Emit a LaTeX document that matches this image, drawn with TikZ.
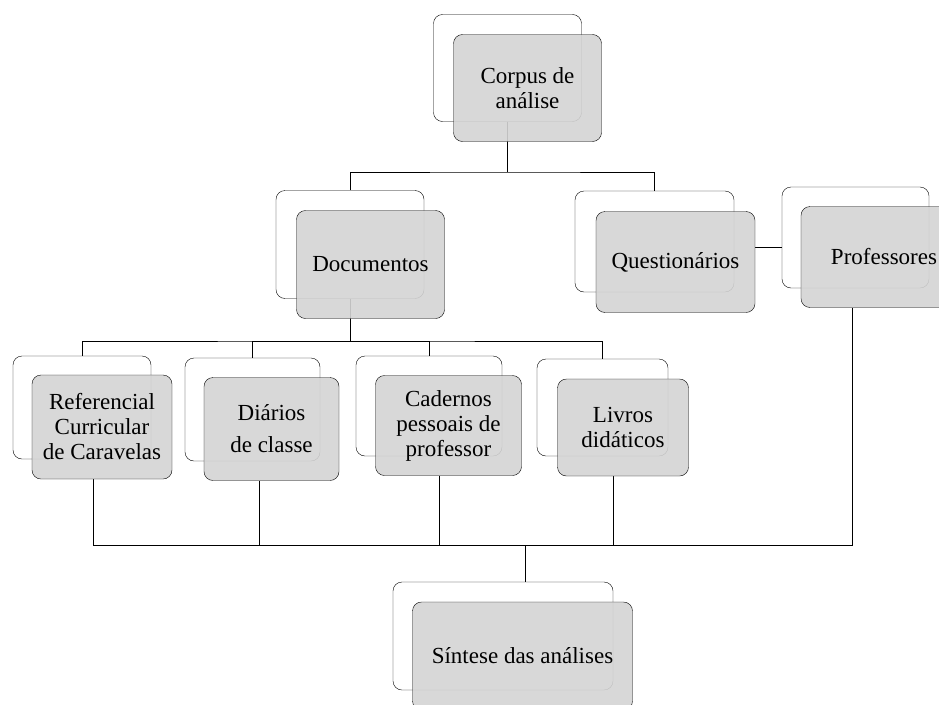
\documentclass[tikz,border=0pt]{standalone}
\usepackage{fontspec}
\setmainfont{Liberation Serif}
\usetikzlibrary{backgrounds}

\begin{document}
\begin{tikzpicture}[x=1pt, y=-1pt, line width=1.6pt,
    every node/.style = {shape=rectangle, rounded corners=9pt,
    draw, align=center, font=\fontsize{23}{25}\selectfont},
    sz/.style 2 args={minimum width=#1pt, minimum height=#2pt},
    bbox/.style={fill=white},
    fbox/.style={fill=black!17, fill opacity=0.9, text opacity=1}]
    \useasboundingbox (0,0) rectangle (939,704);
    \begin{pgfonlayer}{background}
    \node[bbox, sz={148}{107}] (corpusB) at (507.5,68) {};
    \node[bbox, sz={148}{108}] (docB) at (350,244.5) {};
    \node[bbox, sz={159}{101}] (questB) at (654.5,241.5) {};
    \node[bbox, sz={147}{101}] (profB) at (855.5,237.5) {};
    \node[bbox, sz={138}{103}] (refB) at (82,407.5) {};
    \node[bbox, sz={135}{103}] (diaB) at (252.5,409.5) {};
    \node[bbox, sz={146}{100}] (cadB) at (429,406) {};
    \node[bbox, sz={131}{97}] (livB) at (602.5,407.5) {};
    \node[bbox, sz={220}{108}] (sintB) at (503,636) {};
    \end{pgfonlayer}
    \node[fbox, sz={148}{107}] (corpus) at (527.5,88) {Corpus de\\análise};
    \node[fbox, sz={148}{108}] (doc) at (370.5,264.5) {Documentos};
    \node[fbox, sz={159}{101}] (quest) at (675.5,262) {Questionários};
    \node[fbox, sz={166}{101}] (prof) at (884,257) {Professores};
    \node[fbox, sz={140}{104}] (ref) at (102,427) {Referencial\\Curricular\\de Caravelas};
    \node[fbox, sz={135}{103}] (dia) at (271.5,429) {Diários\\[7pt]de classe};
    \node[fbox, sz={146}{100}] (cad) at (448.5,425.5) {Cadernos\\pessoais de\\professor};
    \node[fbox, sz={131}{97}] (liv) at (623,427.5) {Livros\\didáticos};
    \node[fbox, sz={220}{108}] (sint) at (522.5,656) {Síntese das análises};
    \begin{pgfonlayer}{background}
    \coordinate (top) at (507.5,172);
    \coordinate (mid) at (350,341);
    \coordinate (low) at (525,545);
    \draw (corpusB.south) -- (top);
    \draw (docB.north) |- (top) -| (questB.north);
    \draw ([yshift=15pt]quest.east) -- ([yshift=15pt]quest.east -| profB.west);
    \draw (docB.south) -- (mid);
    \draw (refB.north) |- (mid) -| (livB.north);
    \draw (diaB.north) |- (mid);
    \draw (cadB.north) |- (mid);
    \draw ([xshift=-9pt]ref.south) |- (low);
    \draw ([xshift=-12pt]dia.south) |- (low);
    \draw ([xshift=-9pt]cad.south) |- (low);
    \draw ([xshift=-10pt]liv.south) |- (low);
    \draw ([xshift=-32pt]prof.south) |- (low);
    \draw (low) -- (low |- sintB.north);
    \end{pgfonlayer}
\end{tikzpicture}
\end{document}
